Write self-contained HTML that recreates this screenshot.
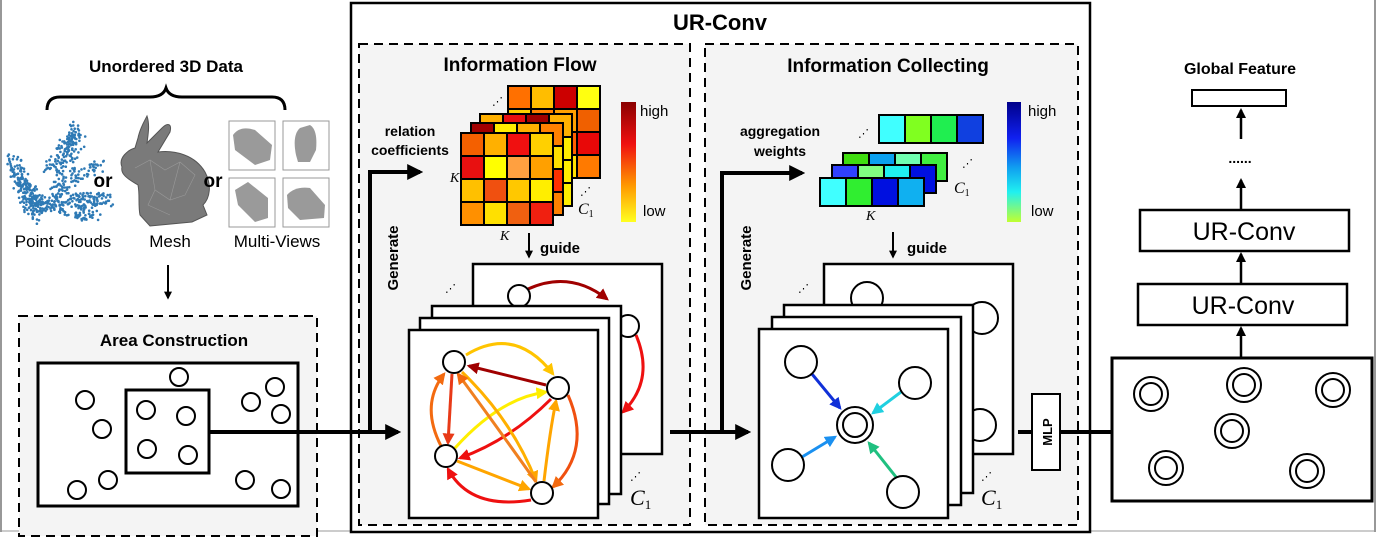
<!DOCTYPE html>
<html><head><meta charset="utf-8"><style>
html,body{margin:0;padding:0;background:#fff;}
svg{display:block;font-family:"Liberation Sans",sans-serif;}
.b{font-weight:bold;}
.k{font-family:"Liberation Serif",serif;font-style:italic;}
</style></head><body>
<svg id="s" width="1380" height="539" viewBox="0 0 1380 539" xmlns="http://www.w3.org/2000/svg">
<defs>
<marker id="mk" viewBox="0 0 10 10" refX="8" refY="5" markerWidth="4" markerHeight="4" orient="auto"><path d="M0,0L10,5L0,10z" fill="#000"/></marker>
<marker id="m1" viewBox="0 0 10 10" refX="8" refY="5" markerWidth="4" markerHeight="4" orient="auto"><path d="M0,0L10,5L0,10z" fill="#a00000"/></marker>
<marker id="m2" viewBox="0 0 10 10" refX="8" refY="5" markerWidth="4" markerHeight="4" orient="auto"><path d="M0,0L10,5L0,10z" fill="#ee1010"/></marker>
<marker id="m3" viewBox="0 0 10 10" refX="8" refY="5" markerWidth="4" markerHeight="4" orient="auto"><path d="M0,0L10,5L0,10z" fill="#f36a10"/></marker>
<marker id="m4" viewBox="0 0 10 10" refX="8" refY="5" markerWidth="4" markerHeight="4" orient="auto"><path d="M0,0L10,5L0,10z" fill="#ffa500"/></marker>
<marker id="m5" viewBox="0 0 10 10" refX="8" refY="5" markerWidth="4" markerHeight="4" orient="auto"><path d="M0,0L10,5L0,10z" fill="#ffc400"/></marker>
<marker id="m6" viewBox="0 0 10 10" refX="8" refY="5" markerWidth="4" markerHeight="4" orient="auto"><path d="M0,0L10,5L0,10z" fill="#ffee00"/></marker>
<marker id="m7" viewBox="0 0 10 10" refX="8" refY="5" markerWidth="4" markerHeight="4" orient="auto"><path d="M0,0L10,5L0,10z" fill="#e83a18"/></marker>
<marker id="c1" viewBox="0 0 10 10" refX="8" refY="5" markerWidth="4" markerHeight="4" orient="auto"><path d="M0,0L10,5L0,10z" fill="#1030d8"/></marker>
<marker id="c2" viewBox="0 0 10 10" refX="8" refY="5" markerWidth="4" markerHeight="4" orient="auto"><path d="M0,0L10,5L0,10z" fill="#20d0e0"/></marker>
<marker id="c3" viewBox="0 0 10 10" refX="8" refY="5" markerWidth="4" markerHeight="4" orient="auto"><path d="M0,0L10,5L0,10z" fill="#1a90f0"/></marker>
<marker id="c4" viewBox="0 0 10 10" refX="8" refY="5" markerWidth="4" markerHeight="4" orient="auto"><path d="M0,0L10,5L0,10z" fill="#20c080"/></marker>
<linearGradient id="gr" x1="0" y1="0" x2="0" y2="1"><stop offset="0" stop-color="#8a0000"/><stop offset="0.35" stop-color="#f01010"/><stop offset="0.7" stop-color="#ff9a00"/><stop offset="1" stop-color="#ffff20"/></linearGradient>
<linearGradient id="gb" x1="0" y1="0" x2="0" y2="1"><stop offset="0" stop-color="#00008a"/><stop offset="0.3" stop-color="#1020f0"/><stop offset="0.55" stop-color="#10a0f0"/><stop offset="0.75" stop-color="#20f0f0"/><stop offset="1" stop-color="#c0ff30"/></linearGradient>
</defs>

<line x1="1" y1="0" x2="1" y2="532" stroke="#777" stroke-width="1.5"/>
<line x1="1375" y1="0" x2="1375" y2="532" stroke="#777" stroke-width="1.5"/>
<line x1="0" y1="531" x2="1376" y2="531" stroke="#999" stroke-width="1"/>

<text x="166" y="72" text-anchor="middle" class="b" font-size="17">Unordered 3D Data</text>
<path d="M47,110 Q47,97 60,97 L150,97 Q163,97 166,88 Q169,97 182,97 L272,97 Q285,97 285,110" fill="none" stroke="#000" stroke-width="3"/>
<g id="pc" fill="#2f7ab5"></g>
<text x="103" y="187" text-anchor="middle" class="b" font-size="19">or</text>
<path d="M122,167 C118,158 128,150 135,148 L138,138 C140,128 145,120 147,116 C150,125 148,135 147,143 L162,128 C168,122 172,124 170,132 L158,152 C175,150 195,155 205,172 C212,185 210,198 203,205 L207,215 L192,222 L150,226 L140,215 C138,205 140,195 138,185 C130,180 120,175 122,167z" fill="#7a7a7a" stroke="#555" stroke-width="1"/>
<path d="M135,168 L150,160 L165,170 L180,162 L195,175 L185,195 L170,200 L155,190 L148,205 L170,215 M150,160 L155,190 M180,162 L170,200" fill="none" stroke="#999" stroke-width="0.6"/>
<text x="213" y="187" text-anchor="middle" class="b" font-size="19">or</text>
<g fill="#fff" stroke="#999" stroke-width="1">
<rect x="229" y="121" width="46" height="49"/><rect x="283" y="121" width="46" height="49"/>
<rect x="229" y="178" width="46" height="49"/><rect x="283" y="178" width="46" height="49"/>
</g>
<g fill="#9a9a9a">
<path d="M233,135 Q240,125 255,130 L272,145 L270,160 L255,165 L235,150z"/>
<path d="M296,155 Q292,135 300,128 L310,125 Q318,130 316,150 L310,162 L298,162z"/>
<path d="M235,190 L248,182 L268,198 L268,218 L255,222 L238,205z"/>
<path d="M287,195 Q295,186 310,188 L325,205 L324,218 L300,220 L288,208z"/>
</g>
<text x="63" y="247" text-anchor="middle" font-size="17">Point Clouds</text>
<text x="170" y="247" text-anchor="middle" font-size="17">Mesh</text>
<text x="277" y="247" text-anchor="middle" font-size="17">Multi-Views</text>
<line x1="168" y1="265" x2="168" y2="298" stroke="#000" stroke-width="2" marker-end="url(#mk)"/>

<rect x="19" y="316" width="298" height="220" fill="#f4f4f4" stroke="#000" stroke-width="2" stroke-dasharray="9,6"/>
<text x="174" y="346" text-anchor="middle" class="b" font-size="17">Area Construction</text>
<rect x="38" y="363" width="260" height="143" fill="#fff" stroke="#000" stroke-width="3"/>
<rect x="126" y="390" width="83" height="83" fill="#fff" stroke="#000" stroke-width="3"/>
<g fill="none" stroke="#000" stroke-width="2">
<circle cx="179" cy="377" r="9"/><circle cx="85" cy="400" r="9"/><circle cx="102" cy="429" r="9"/>
<circle cx="77" cy="490" r="9"/><circle cx="108" cy="480" r="9"/>
<circle cx="146" cy="410" r="9"/><circle cx="186" cy="416" r="9"/><circle cx="147" cy="449" r="9"/><circle cx="188" cy="455" r="9"/>
<circle cx="251" cy="402" r="9"/><circle cx="275" cy="387" r="9"/><circle cx="281" cy="414" r="9"/>
<circle cx="245" cy="480" r="9"/><circle cx="281" cy="489" r="9"/>
</g>

<rect x="351" y="3" width="739" height="529" fill="#fff" stroke="#000" stroke-width="2.5"/>
<text x="720" y="30" text-anchor="middle" class="b" font-size="22">UR-Conv</text>
<rect x="359" y="44" width="331" height="481" fill="#f4f4f4" stroke="#000" stroke-width="2" stroke-dasharray="9,6"/>
<rect x="705" y="44" width="373" height="481" fill="#f4f4f4" stroke="#000" stroke-width="2" stroke-dasharray="9,6"/>
<text x="520" y="71" text-anchor="middle" class="b" font-size="19">Information Flow</text>
<text x="888" y="72" text-anchor="middle" class="b" font-size="19">Information Collecting</text>

<line x1="209" y1="432" x2="398" y2="432" stroke="#000" stroke-width="4" marker-end="url(#mk)"/>
<polyline points="370,432 370,172 420,172" fill="none" stroke="#000" stroke-width="4" marker-end="url(#mk)"/>
<text transform="translate(398,258) rotate(-90)" text-anchor="middle" class="b" font-size="15">Generate</text>
<text x="410" y="136" text-anchor="middle" class="b" font-size="14">relation</text>
<text x="410" y="155" text-anchor="middle" class="b" font-size="14">coefficients</text>
<text x="450" y="182" class="k" font-size="14">K</text>
<text x="500" y="240" class="k" font-size="14">K</text>
<text x="578" y="214" class="k" font-size="16">C<tspan font-size="10" dy="3" font-style="normal">1</tspan></text>
<text x="492" y="105" font-size="11">⋰</text>
<text x="580" y="195" font-size="11">⋰</text>

<g stroke="#000" stroke-width="2">
<g transform="translate(508,86)"><rect width="23" height="23" fill="#ff7000"/><rect x="23" width="23" height="23" fill="#ffbd00"/><rect x="46" width="23" height="23" fill="#cc0000"/><rect x="69" width="23" height="23" fill="#ffff10"/>
<rect y="23" width="23" height="23" fill="#ffd000"/><rect x="23" y="23" width="23" height="23" fill="#ff8000"/><rect x="46" y="23" width="23" height="23" fill="#ffa000"/><rect x="69" y="23" width="23" height="23" fill="#f06000"/>
<rect y="46" width="23" height="23" fill="#ffe000"/><rect x="23" y="46" width="23" height="23" fill="#ffa000"/><rect x="46" y="46" width="23" height="23" fill="#ff6000"/><rect x="69" y="46" width="23" height="23" fill="#e80808"/>
<rect y="69" width="23" height="23" fill="#ffd000"/><rect x="23" y="69" width="23" height="23" fill="#ffb000"/><rect x="46" y="69" width="23" height="23" fill="#ffe000"/><rect x="69" y="69" width="23" height="23" fill="#ff7a00"/></g>
<g transform="translate(480,114)"><rect width="23" height="23" fill="#ffb000"/><rect x="23" width="23" height="23" fill="#e81010"/><rect x="46" width="23" height="23" fill="#a00000"/><rect x="69" width="23" height="23" fill="#ffb000"/>
<rect y="23" width="23" height="23" fill="#ffb000"/><rect x="23" y="23" width="23" height="23" fill="#ffb000"/><rect x="46" y="23" width="23" height="23" fill="#ff8000"/><rect x="69" y="23" width="23" height="23" fill="#ffee00"/>
<rect y="46" width="23" height="23" fill="#ff9000"/><rect x="23" y="46" width="23" height="23" fill="#ff9000"/><rect x="46" y="46" width="23" height="23" fill="#a00000"/><rect x="69" y="46" width="23" height="23" fill="#ffee00"/>
<rect y="69" width="23" height="23" fill="#ffb000"/><rect x="23" y="69" width="23" height="23" fill="#ffb000"/><rect x="46" y="69" width="23" height="23" fill="#ffd000"/><rect x="69" y="69" width="23" height="23" fill="#ffee00"/></g>
<g transform="translate(471,123)"><rect width="23" height="23" fill="#a00000"/><rect x="23" width="23" height="23" fill="#ffee00"/><rect x="46" width="23" height="23" fill="#ffb000"/><rect x="69" width="23" height="23" fill="#ff8000"/>
<rect y="23" width="23" height="23" fill="#ff8000"/><rect x="23" y="23" width="23" height="23" fill="#ffd000"/><rect x="46" y="23" width="23" height="23" fill="#ff8000"/><rect x="69" y="23" width="23" height="23" fill="#ffe000"/>
<rect y="46" width="23" height="23" fill="#ff8000"/><rect x="23" y="46" width="23" height="23" fill="#ffd000"/><rect x="46" y="46" width="23" height="23" fill="#ff8000"/><rect x="69" y="46" width="23" height="23" fill="#ff3000"/>
<rect y="69" width="23" height="23" fill="#ff8000"/><rect x="23" y="69" width="23" height="23" fill="#ffd000"/><rect x="46" y="69" width="23" height="23" fill="#ff8000"/><rect x="69" y="69" width="23" height="23" fill="#ff8000"/></g>
<g transform="translate(461,133)"><rect width="23" height="23" fill="#f46000"/><rect x="23" width="23" height="23" fill="#ffb000"/><rect x="46" width="23" height="23" fill="#f01010"/><rect x="69" width="23" height="23" fill="#ffd000"/>
<rect y="23" width="23" height="23" fill="#e81010"/><rect x="23" y="23" width="23" height="23" fill="#ffff00"/><rect x="46" y="23" width="23" height="23" fill="#ffa040"/><rect x="69" y="23" width="23" height="23" fill="#ffa000"/>
<rect y="46" width="23" height="23" fill="#ffc000"/><rect x="23" y="46" width="23" height="23" fill="#f05010"/><rect x="46" y="46" width="23" height="23" fill="#ffc800"/><rect x="69" y="46" width="23" height="23" fill="#ffee00"/>
<rect y="69" width="23" height="23" fill="#ff9000"/><rect x="23" y="69" width="23" height="23" fill="#ffe000"/><rect x="46" y="69" width="23" height="23" fill="#f06010"/><rect x="69" y="69" width="23" height="23" fill="#f02010"/></g>
</g>
<rect x="621" y="102" width="15" height="120" fill="url(#gr)"/>
<text x="640" y="116" font-size="15">high</text>
<text x="643" y="216" font-size="15">low</text>

<line x1="529" y1="233" x2="529" y2="257" stroke="#000" stroke-width="2" marker-end="url(#mk)"/>
<text x="540" y="253" class="b" font-size="15">guide</text>

<rect x="473" y="264" width="189" height="190" fill="#fff" stroke="#000" stroke-width="2.5"/>
<path d="M528,289 Q570,270 607,299" fill="none" stroke="#a00000" stroke-width="3" marker-end="url(#m1)"/>
<path d="M636,335 Q655,380 623,412" fill="none" stroke="#ee1010" stroke-width="3" marker-end="url(#m2)"/>
<circle cx="519" cy="296" r="11" fill="#fff" stroke="#000" stroke-width="2"/>
<circle cx="628" cy="326" r="11" fill="#fff" stroke="#000" stroke-width="2"/>
<text x="445" y="292" font-size="11">⋰</text>
<rect x="432" y="306" width="189" height="188" fill="#fff" stroke="#000" stroke-width="2.5"/>
<rect x="420" y="318" width="189" height="186" fill="#fff" stroke="#000" stroke-width="2.5"/>
<rect x="409" y="330" width="189" height="188" fill="#fff" stroke="#000" stroke-width="2.5"/>
<text x="630" y="480" font-size="11">⋰</text>
<text x="630" y="505" class="k" font-size="22">C<tspan font-size="13" dy="4" font-style="normal">1</tspan></text>
<g fill="none" stroke-width="3">
<path d="M466,355 Q515,325 553,374" stroke="#ffc400" marker-end="url(#m5)"/>
<path d="M546,385 L469,366" stroke="#a00000" marker-end="url(#m1)"/>
<path d="M441,446 Q420,405 444,374" stroke="#f36a10" marker-end="url(#m3)"/>
<path d="M452,374 L448,443" stroke="#e83a18" marker-end="url(#m7)"/>
<path d="M455,448 Q500,398 546,392" stroke="#ffee00" marker-end="url(#m6)"/>
<path d="M551,399 Q510,440 460,458" stroke="#ee1010" marker-end="url(#m2)"/>
<path d="M462,372 Q512,420 536,481" stroke="#ffb000" marker-end="url(#m4)"/>
<path d="M536,482 Q492,420 458,374" stroke="#f08020" marker-end="url(#m3)"/>
<path d="M457,461 L529,489" stroke="#ffa500" marker-end="url(#m4)"/>
<path d="M531,500 Q470,510 448,469" stroke="#ee1010" marker-end="url(#m2)"/>
<path d="M544,481 Q550,430 556,401" stroke="#ffa500" marker-end="url(#m4)"/>
<path d="M568,395 Q592,450 553,487" stroke="#f05010" marker-end="url(#m3)"/>
</g>
<g fill="#fff" stroke="#000" stroke-width="2">
<circle cx="454" cy="362" r="11"/><circle cx="558" cy="388" r="11"/><circle cx="446" cy="456" r="11"/><circle cx="542" cy="493" r="11"/>
</g>

<line x1="670" y1="432" x2="748" y2="432" stroke="#000" stroke-width="4" marker-end="url(#mk)"/>
<polyline points="722,432 722,173 802,173" fill="none" stroke="#000" stroke-width="4" marker-end="url(#mk)"/>
<text transform="translate(751,258) rotate(-90)" text-anchor="middle" class="b" font-size="15">Generate</text>
<text x="780" y="136" text-anchor="middle" class="b" font-size="14">aggregation</text>
<text x="780" y="156" text-anchor="middle" class="b" font-size="14">weights</text>
<text x="858" y="137" font-size="11">⋰</text>
<text x="962" y="167" font-size="11">⋰</text>
<text x="954" y="193" class="k" font-size="16">C<tspan font-size="10" dy="3" font-style="normal">1</tspan></text>
<text x="866" y="220" class="k" font-size="14">K</text>
<g stroke="#000" stroke-width="2">
<g transform="translate(879,115)"><rect width="26" height="28" fill="#40ffff"/><rect x="26" width="26" height="28" fill="#80ff20"/><rect x="52" width="26" height="28" fill="#20ee50"/><rect x="78" width="26" height="28" fill="#1040e0"/></g>
<g transform="translate(843,153)"><rect width="26" height="28" fill="#40dd10"/><rect x="26" width="26" height="28" fill="#0aa0f0"/><rect x="52" width="26" height="28" fill="#70ffb0"/><rect x="78" width="26" height="28" fill="#40ee40"/></g>
<g transform="translate(832,165)"><rect width="26" height="28" fill="#3040ff"/><rect x="26" width="26" height="28" fill="#80ff80"/><rect x="52" width="26" height="28" fill="#20f0f0"/><rect x="78" width="26" height="28" fill="#0010e0"/></g>
<g transform="translate(820,178)"><rect width="26" height="28" fill="#40ffff"/><rect x="26" width="26" height="28" fill="#30ee30"/><rect x="52" width="26" height="28" fill="#0010e0"/><rect x="78" width="26" height="28" fill="#10b0f0"/></g>
</g>
<rect x="1007" y="102" width="14" height="120" fill="url(#gb)"/>
<text x="1028" y="116" font-size="15">high</text>
<text x="1031" y="216" font-size="15">low</text>
<line x1="893" y1="232" x2="893" y2="257" stroke="#000" stroke-width="2" marker-end="url(#mk)"/>
<text x="907" y="253" class="b" font-size="15">guide</text>

<rect x="824" y="264" width="189" height="190" fill="#fff" stroke="#000" stroke-width="2.5"/>
<circle cx="867" cy="298" r="16" fill="#fff" stroke="#000" stroke-width="2"/>
<circle cx="982" cy="318" r="16" fill="#fff" stroke="#000" stroke-width="2"/>
<circle cx="980" cy="425" r="16" fill="#fff" stroke="#000" stroke-width="2"/>
<text x="798" y="292" font-size="11">⋰</text>
<rect x="784" y="305" width="189" height="188" fill="#fff" stroke="#000" stroke-width="2.5"/>
<rect x="772" y="317" width="189" height="188" fill="#fff" stroke="#000" stroke-width="2.5"/>
<rect x="759" y="329" width="189" height="189" fill="#fff" stroke="#000" stroke-width="2.5"/>
<text x="981" y="480" font-size="11">⋰</text>
<text x="981" y="505" class="k" font-size="22">C<tspan font-size="13" dy="4" font-style="normal">1</tspan></text>
<g fill="none" stroke-width="3">
<path d="M812,374 L840,408" stroke="#1030d8" marker-end="url(#c1)"/>
<path d="M901,392 L873,413" stroke="#20d0e0" marker-end="url(#c2)"/>
<path d="M802,457 L835,437" stroke="#1a90f0" marker-end="url(#c3)"/>
<path d="M896,477 L869,443" stroke="#20c080" marker-end="url(#c4)"/>
</g>
<g fill="#fff" stroke="#000" stroke-width="2">
<circle cx="801" cy="362" r="16"/><circle cx="915" cy="383" r="16"/><circle cx="788" cy="465" r="16"/><circle cx="903" cy="492" r="16"/>
<circle cx="855" cy="425" r="18"/><circle cx="855" cy="425" r="12"/>
</g>

<line x1="1018" y1="432" x2="1032" y2="432" stroke="#000" stroke-width="4"/>
<rect x="1032" y="394" width="28" height="76" fill="#fff" stroke="#000" stroke-width="2"/>
<text transform="translate(1052,432) rotate(-90)" text-anchor="middle" class="b" font-size="13">MLP</text>
<line x1="1060" y1="432" x2="1212" y2="432" stroke="#000" stroke-width="4" marker-end="url(#mk)"/>

<text x="1240" y="74" text-anchor="middle" class="b" font-size="16">Global Feature</text>
<rect x="1192" y="90" width="94" height="16" fill="#fff" stroke="#000" stroke-width="2"/>
<line x1="1241" y1="139" x2="1241" y2="110" stroke="#000" stroke-width="2.5" marker-end="url(#mk)"/>
<text x="1240" y="163" text-anchor="middle" class="b" font-size="14">......</text>
<line x1="1241" y1="209" x2="1241" y2="180" stroke="#000" stroke-width="2.5" marker-end="url(#mk)"/>
<rect x="1140" y="210" width="209" height="41" fill="#fff" stroke="#000" stroke-width="2.5"/>
<text x="1244" y="240" text-anchor="middle" font-size="25">UR-Conv</text>
<line x1="1241" y1="284" x2="1241" y2="254" stroke="#000" stroke-width="2.5" marker-end="url(#mk)"/>
<rect x="1138" y="284" width="209" height="41" fill="#fff" stroke="#000" stroke-width="2.5"/>
<text x="1243" y="314" text-anchor="middle" font-size="25">UR-Conv</text>
<line x1="1241" y1="358" x2="1241" y2="328" stroke="#000" stroke-width="2.5" marker-end="url(#mk)"/>
<rect x="1112" y="358" width="260" height="143" fill="#fff" stroke="#000" stroke-width="3"/>
<g fill="none" stroke="#000" stroke-width="2">
<circle cx="1151" cy="394" r="17"/><circle cx="1151" cy="394" r="11"/>
<circle cx="1244" cy="385" r="17"/><circle cx="1244" cy="385" r="11"/>
<circle cx="1333" cy="390" r="17"/><circle cx="1333" cy="390" r="11"/>
<circle cx="1232" cy="431" r="17"/><circle cx="1232" cy="431" r="11"/>
<circle cx="1166" cy="468" r="17"/><circle cx="1166" cy="468" r="11"/>
<circle cx="1307" cy="471" r="17"/><circle cx="1307" cy="471" r="11"/>
</g>
</svg>
<script>
(function(){var g=document.getElementById('pc');var seed=7;function r(){seed=(seed*16807)%2147483647;return seed/2147483647;}
var segs=[[12,160,40,212,140],[30,200,110,200,160],[50,170,78,128,110],[60,185,100,165,60],[15,170,35,220,70],[40,205,95,215,90],[55,195,80,140,60]];
var ns='http://www.w3.org/2000/svg';
segs.forEach(function(s){for(var i=0;i<s[4];i++){var t=r();var x=s[0]+(s[2]-s[0])*t+(r()-0.5)*14;var y=s[1]+(s[3]-s[1])*t+(r()-0.5)*14;var c=document.createElementNS(ns,'circle');c.setAttribute('cx',x.toFixed(1));c.setAttribute('cy',y.toFixed(1));c.setAttribute('r','1.3');g.appendChild(c);}});})();
</script>
</body></html>
